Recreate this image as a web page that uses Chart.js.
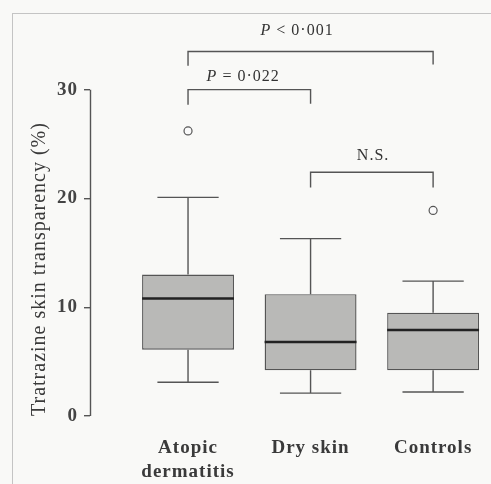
<!DOCTYPE html>
<html>
<head>
<meta charset="utf-8">
<script src="https://cdn.jsdelivr.net/npm/chart.js@4/dist/chart.umd.min.js"></script>
<style>
  body { margin: 0; background: #f9f9f7; }
  #wrap { position: relative; width: 491px; height: 484px; }
  #frame { position: absolute; left: 12px; top: 13px; right: -5px; bottom: -5px;
           border-left: 1px solid #c4c4c4; border-top: 1px solid #c4c4c4; }
  #chart { position: absolute; left: 0; top: 0; }
</style>
</head>
<body>
<div id="wrap">
  <div id="frame"></div>
  <canvas id="chart" width="491" height="484"></canvas>
</div>
<script>
// box plot values (tratrazine skin transparency, %)
var categories = [['Atopic', 'dermatitis'], 'Dry skin', 'Controls'];
var whiskerLow = [3.1, 2.1, 2.2];
var q1 = [6.1, 4.2, 4.2];
var median = [10.8, 6.8, 7.9];
var q3 = [13.0, 11.2, 9.5];
var whiskerHigh = [20.1, 16.3, 12.4];
var outliers = [[26.2], [], [18.9]];
var yTicks = [0, 10, 20, 30];

// significance brackets drawn above the boxes
var brackets = [
  { from: 1, to: 3, top: 33.5, legs: [32.2, 32.3], text: ['P', ' < 0·001'], tx: 1.89, ty: 35.4 },
  { from: 1, to: 2, top: 30.0, legs: [28.6, 28.7], text: ['P', ' = 0·022'], tx: 1.45, ty: 31.2 },
  { from: 2, to: 3, top: 22.4, legs: [21.0, 21.0], text: ['', 'N.S.'], tx: 2.51, ty: 23.9 }
];

var serif = '"Liberation Serif", "DejaVu Serif", serif';

var boxData = categories.map(function(c, i) { return { x: i + 1, y: [q1[i], q3[i]] }; });
var outlierData = [];
outliers.forEach(function(list, i) {
  list.forEach(function(v) { outlierData.push({ x: i + 1, y: v }); });
});

// whiskers, medians, the short y axis line and the brackets
var boxParts = {
  id: 'boxParts',
  beforeDraw: function(chart) { chart.ctx.letterSpacing = '1px'; },
  afterDatasetsDraw: function(chart) {
    var ctx = chart.ctx, x = chart.scales.x, y = chart.scales.y;
    var half = x.getPixelForValue(1.25) - x.getPixelForValue(1);
    var boxHalf = x.getPixelForValue(1.375) - x.getPixelForValue(1);
    ctx.save();
    ctx.strokeStyle = '#555';
    ctx.lineWidth = 1.4;
    // y axis line only from 0 to 30
    ctx.beginPath();
    ctx.moveTo(x.left + 0.5, y.getPixelForValue(0));
    ctx.lineTo(x.left + 0.5, y.getPixelForValue(30));
    ctx.stroke();
    categories.forEach(function(c, i) {
      var cx = x.getPixelForValue(i + 1);
      ctx.beginPath();
      ctx.moveTo(cx, y.getPixelForValue(q3[i]));
      ctx.lineTo(cx, y.getPixelForValue(whiskerHigh[i]));
      ctx.moveTo(cx - half, y.getPixelForValue(whiskerHigh[i]));
      ctx.lineTo(cx + half, y.getPixelForValue(whiskerHigh[i]));
      ctx.moveTo(cx, y.getPixelForValue(q1[i]));
      ctx.lineTo(cx, y.getPixelForValue(whiskerLow[i]));
      ctx.moveTo(cx - half, y.getPixelForValue(whiskerLow[i]));
      ctx.lineTo(cx + half, y.getPixelForValue(whiskerLow[i]));
      ctx.stroke();
    });
    ctx.save();
    ctx.strokeStyle = '#222';
    ctx.lineWidth = 2.5;
    categories.forEach(function(c, i) {
      var cx = x.getPixelForValue(i + 1);
      ctx.beginPath();
      ctx.moveTo(cx - boxHalf, y.getPixelForValue(median[i]));
      ctx.lineTo(cx + boxHalf, y.getPixelForValue(median[i]));
      ctx.stroke();
    });
    ctx.restore();
    brackets.forEach(function(b) {
      var x1 = x.getPixelForValue(b.from), x2 = x.getPixelForValue(b.to);
      ctx.beginPath();
      ctx.moveTo(x1, y.getPixelForValue(b.legs[0]));
      ctx.lineTo(x1, y.getPixelForValue(b.top));
      ctx.lineTo(x2, y.getPixelForValue(b.top));
      ctx.lineTo(x2, y.getPixelForValue(b.legs[1]));
      ctx.stroke();
      var italic = 'italic 16px ' + serif, plain = '16px ' + serif;
      ctx.font = italic;
      var w1 = ctx.measureText(b.text[0]).width;
      ctx.font = plain;
      var w2 = ctx.measureText(b.text[1]).width;
      var sx = x.getPixelForValue(b.tx) - (w1 + w2) / 2;
      var sy = y.getPixelForValue(b.ty);
      ctx.fillStyle = '#333';
      ctx.textBaseline = 'middle';
      ctx.textAlign = 'left';
      ctx.font = italic;
      ctx.fillText(b.text[0], sx, sy);
      ctx.font = plain;
      ctx.fillText(b.text[1], sx + w1, sy);
    });
    ctx.restore();
  }
};

new Chart(document.getElementById('chart'), {
  type: 'bar',
  data: {
    datasets: [{
      data: boxData,
      backgroundColor: '#b9b9b7',
      borderColor: '#555',
      borderWidth: 1.4,
      borderSkipped: false,
      categoryPercentage: 1,
      barPercentage: 0.75
    }, {
      type: 'scatter',
      data: outlierData,
      pointRadius: 4,
      pointBackgroundColor: '#fafafa',
      pointBorderColor: '#555',
      pointBorderWidth: 1.2
    }]
  },
  options: {
    responsive: false,
    animation: false,
    layout: { padding: { left: 22, top: 20, right: 0, bottom: 0 } },
    plugins: { legend: { display: false }, tooltip: { enabled: false } },
    scales: {
      x: {
        type: 'linear',
        offset: false,
        min: 0.2,
        max: 3.43,
        afterBuildTicks: function(s) { s.ticks = categories.map(function(c, i) { return { value: i + 1 }; }); },
        afterFit: function(s) { s.height = 68; },
        grid: { display: false, drawTicks: false },
        border: { display: false },
        ticks: {
          autoSkip: false,
          maxRotation: 0,
          padding: 20,
          color: '#3a3a3a',
          font: { family: serif, size: 19, weight: 'bold', lineHeight: 1.26 },
          callback: function(v) { return categories[v - 1]; }
        }
      },
      y: {
        min: 0,
        max: 36.4,
        afterBuildTicks: function(s) { s.ticks = yTicks.map(function(v) { return { value: v }; }); },
        afterFit: function(s) { s.width = 68; },
        grid: { drawOnChartArea: false, tickLength: 6, color: '#555', lineWidth: 1.4 },
        border: { display: false },
        ticks: {
          padding: 6,
          color: '#444',
          font: { family: serif, size: 19, weight: 'bold' }
        },
        title: {
          display: true,
          align: 'start',
          text: 'Tratrazine skin transparency (%)',
          color: '#3a3a3a',
          padding: { top: 6, bottom: 2 },
          font: { family: serif, size: 20 }
        }
      }
    }
  },
  plugins: [boxParts]
});
</script>
</body>
</html>
